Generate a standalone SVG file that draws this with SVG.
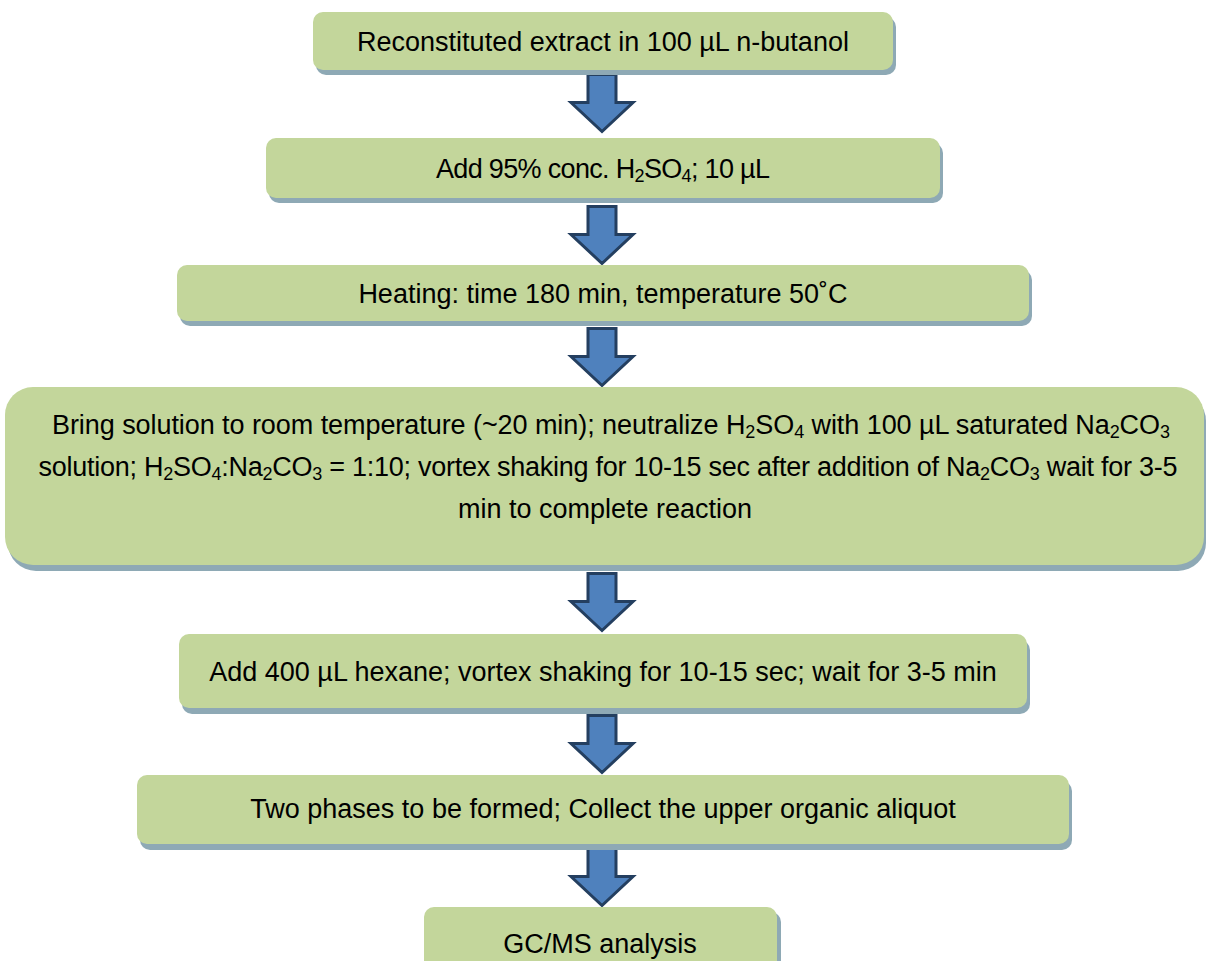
<svg xmlns="http://www.w3.org/2000/svg" width="1206" height="961" viewBox="0 0 1206 961">
<style>
.box{fill:#C3D69B}
.sh{fill:#8EA9B5}
.t{font-family:"Liberation Sans",Arial,sans-serif;font-size:27px;fill:#000;text-anchor:middle}
.arrow{fill:#4F81BD;stroke:#243F60;stroke-width:3;stroke-linejoin:miter}
</style>
<defs>
<path id="arr" class="arrow" d="M-14,0 L14,0 L14,28 L31,28 L0,57 L-31,28 L-14,28 Z"/>
</defs>
<rect width="1206" height="961" fill="#fff"/>
<g id="connectors">
<use href="#arr" x="602" y="74.5"/>
<use href="#arr" x="602" y="206.5"/>
<use href="#arr" x="602" y="328.5"/>
<use href="#arr" x="602" y="573.5"/>
<use href="#arr" x="602" y="715.5"/>
<use href="#arr" x="602" y="848.5"/>
</g>
<g id="n1">
<rect class="sh" x="316" y="17" width="580" height="58" rx="10"/>
<rect class="box" x="313" y="12" width="580" height="58" rx="10"/>
<text class="t" x="603" y="51">Reconstituted extract in 100 µL n-butanol</text>
</g>
<g id="n2">
<rect class="sh" x="269" y="143" width="674" height="60" rx="10"/>
<rect class="box" x="266" y="138" width="674" height="60" rx="10"/>
<text class="t" x="603" y="178" textLength="334">Add 95% conc. H<tspan font-size="18" baseline-shift="-4">2</tspan>SO<tspan font-size="18" baseline-shift="-4">4</tspan>; 10 µL</text>
</g>
<g id="n3">
<rect class="sh" x="180" y="270" width="852" height="56" rx="10"/>
<rect class="box" x="177" y="265" width="852" height="56" rx="10"/>
<text class="t" x="603" y="303">Heating: time 180 min, temperature 50˚C</text>
</g>
<g id="n4">
<rect class="sh" x="8" y="393" width="1198" height="178" rx="28"/>
<rect class="box" x="5" y="387" width="1199" height="178" rx="28"/>
<text class="t" x="611" y="434" textLength="1118">Bring solution to room temperature (~20 min); neutralize H<tspan font-size="18" baseline-shift="-4">2</tspan>SO<tspan font-size="18" baseline-shift="-4">4</tspan> with 100 µL saturated Na<tspan font-size="18" baseline-shift="-4">2</tspan>CO<tspan font-size="18" baseline-shift="-4">3</tspan></text>
<text class="t" x="608" y="476" textLength="1139">solution; H<tspan font-size="18" baseline-shift="-4">2</tspan>SO<tspan font-size="18" baseline-shift="-4">4</tspan>:Na<tspan font-size="18" baseline-shift="-4">2</tspan>CO<tspan font-size="18" baseline-shift="-4">3</tspan> = 1:10; vortex shaking for 10-15 sec after addition of Na<tspan font-size="18" baseline-shift="-4">2</tspan>CO<tspan font-size="18" baseline-shift="-4">3</tspan> wait for 3-5</text>
<text class="t" x="605" y="518">min to complete reaction</text>
</g>
<g id="n5">
<rect class="sh" x="182" y="640" width="848" height="74" rx="10"/>
<rect class="box" x="179" y="634" width="848" height="74" rx="10"/>
<text class="t" x="603" y="681">Add 400 µL hexane; vortex shaking for 10-15 sec; wait for 3-5 min</text>
</g>
<g id="n6">
<rect class="sh" x="140" y="781" width="932" height="69" rx="10"/>
<rect class="box" x="137" y="775" width="932" height="69" rx="10"/>
<text class="t" x="603" y="818">Two phases to be formed; Collect the upper organic aliquot</text>
</g>
<g id="n7">
<rect class="sh" x="428" y="912" width="353" height="70" rx="10"/>
<rect class="box" x="424" y="907" width="353" height="70" rx="10"/>
<text class="t" x="600" y="953">GC/MS analysis</text>
</g>
</svg>
